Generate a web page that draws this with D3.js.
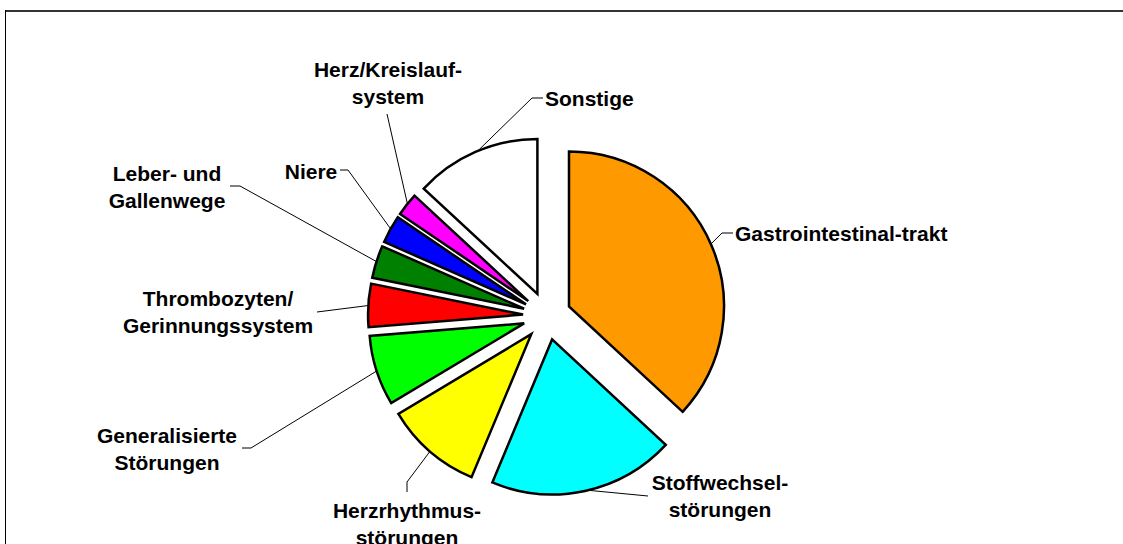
<!DOCTYPE html>
<html>
<head>
<meta charset="utf-8">
<script src="https://cdn.jsdelivr.net/npm/d3@7"></script>
<style>
  html, body { margin: 0; padding: 0; background: #fff; overflow: hidden; }
  svg { display: block; }
  svg text { font-family: "Liberation Sans", Arial, sans-serif; font-weight: bold; font-size: 21px; fill: #000; }
</style>
</head>
<body>
<svg width="1123" height="544"></svg>
<script>
// categories, clockwise from 12 o'clock
const categories = [
  "Gastrointestinal-trakt",
  "Stoffwechselstörungen",
  "Herzrhythmusstörungen",
  "Generalisierte Störungen",
  "Thrombozyten/Gerinnungssystem",
  "Leber- und Gallenwege",
  "Niere",
  "Herz/Kreislaufsystem",
  "Sonstige"
];
// share in percent
const shares = [36.9, 19.4, 10.1, 7.3, 4.5, 3.4, 2.9, 2.4, 13.1];
// label text as printed, line by line
const labelLines = [
  ["Gastrointestinal-trakt"],
  ["Stoffwechsel-", "störungen"],
  ["Herzrhythmus-", "störungen"],
  ["Generalisierte", "Störungen"],
  ["Thrombozyten/", "Gerinnungssystem"],
  ["Leber- und", "Gallenwege"],
  ["Niere"],
  ["Herz/Kreislauf-", "system"],
  ["Sonstige"]
];
const colors = ["#ff9900", "#00ffff", "#ffff00", "#00ff00", "#ff0000", "#008000", "#0000ff", "#ff00ff", "#ffffff"];

// layout of the labels (leader bends + text spot)
const labelLayout = [
  { bend: [[722, 233], [733, 233]], x: 735, y: 233, anchor: "start" },
  { bend: [[648, 496]], x: 720, y: 482, anchor: "middle" },
  { bend: [[407, 482], [407, 492]], x: 407, y: 510, anchor: "middle" },
  { bend: [[251, 448], [242, 448]], x: 167, y: 435, anchor: "middle" },
  { bend: [[317, 312]], x: 218, y: 298, anchor: "middle" },
  { bend: [[240, 186], [230, 186]], x: 167, y: 173, anchor: "middle" },
  { bend: [[348, 170], [340, 170]], x: 311, y: 171, anchor: "middle" },
  { bend: [[387, 114]], x: 388, y: 69, anchor: "middle" },
  { bend: [[532, 98], [543, 98]], x: 545, y: 98, anchor: "start" }
];

const svg = d3.select("svg");

// frame of the chart area (only top and left edge visible)
svg.append("line").attr("x1", 5).attr("x2", 1123).attr("y1", 11).attr("y2", 11)
  .attr("stroke", "#333").attr("stroke-width", 2);
svg.append("line").attr("x1", 5.5).attr("x2", 5.5).attr("y1", 10).attr("y2", 544)
  .attr("stroke", "#000").attr("stroke-width", 1);

const cx = 547, cy = 316, radius = 155, explode = 24;

const pie = d3.pie().sort(null).value(d => d)(shares);
const arc = d3.arc().innerRadius(0).outerRadius(radius);

const mid = d => (d.startAngle + d.endAngle) / 2;
const offset = (d, r) => [Math.sin(mid(d)) * r, -Math.cos(mid(d)) * r];

const g = svg.append("g").attr("transform", `translate(${cx},${cy})`);

// leader lines first, slices are drawn over their ends
const line = d3.line();
g.selectAll("path.leader")
  .data(pie)
  .enter()
  .append("path")
  .attr("class", "leader")
  .attr("d", (d, i) => {
    const o = offset(d, explode + radius - 1);
    const pts = [o].concat(labelLayout[i].bend.map(p => [p[0] - cx, p[1] - cy]));
    return line(pts);
  })
  .attr("fill", "none")
  .attr("stroke", "#000")
  .attr("stroke-width", 1);

g.selectAll("path.slice")
  .data(pie)
  .enter()
  .append("path")
  .attr("class", "slice")
  .attr("transform", d => `translate(${offset(d, explode)})`)
  .attr("d", arc)
  .attr("fill", (d, i) => colors[i])
  .attr("stroke", "#000")
  .attr("stroke-width", 2.5)
  .attr("stroke-linejoin", "miter");

// labels
const lineH = 27.5;
svg.selectAll("text.label")
  .data(labelLines)
  .enter()
  .append("text")
  .attr("class", "label")
  .attr("text-anchor", (d, i) => labelLayout[i].anchor)
  .each(function (d, i) {
    const t = d3.select(this);
    d.forEach((s, k) => {
      t.append("tspan")
        .attr("x", labelLayout[i].x)
        .attr("y", labelLayout[i].y + k * lineH)
        .attr("dy", "0.36em")
        .text(s);
    });
  });
</script>
</body>
</html>
